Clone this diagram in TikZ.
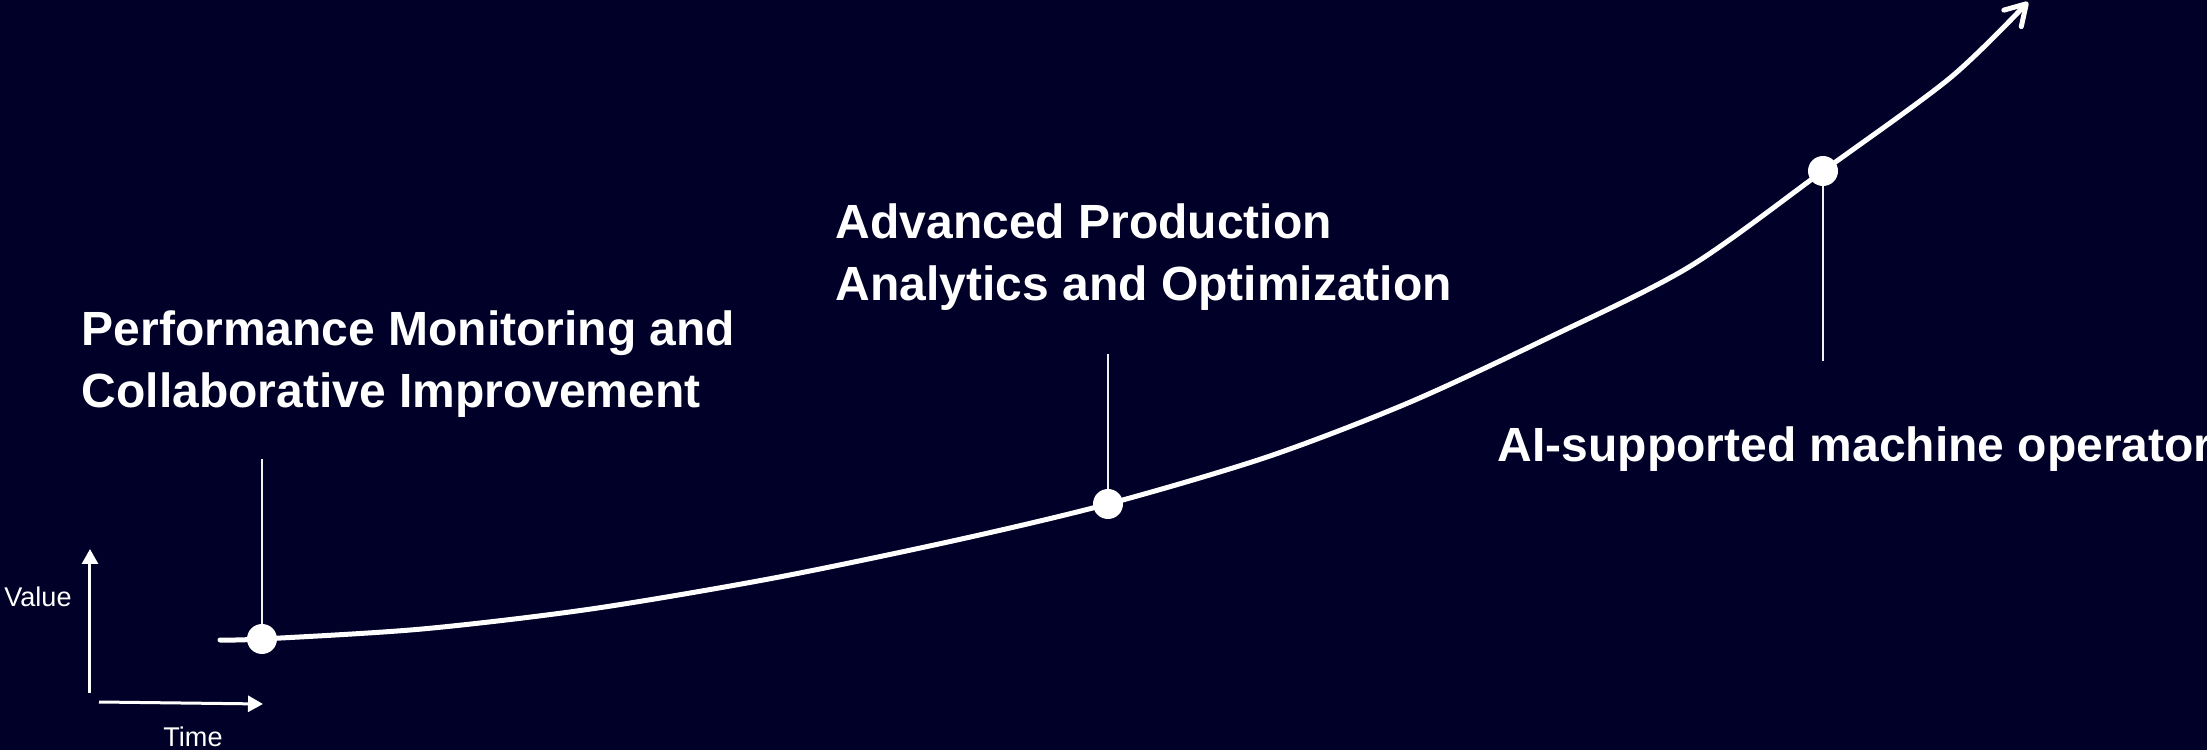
\documentclass[tikz,border=0pt]{standalone}
\usepackage{fontspec}
\setmainfont{Liberation Sans}
\usepackage{tikz}
\usetikzlibrary{arrows.meta}
\definecolor{navy}{HTML}{000028}
\tikzset{dot/.style={circle,fill=white,minimum size=0.3cm,inner sep=0pt}}
\tikzset{lbl/.style={anchor=base west,inner sep=0pt,align=left,text=white,font=\bfseries\fontsize{13.66}{17.9}\selectfont}}
\tikzset{axlbl/.style={text=white,inner sep=0pt,font=\fontsize{7.7}{9}\selectfont}}
\tikzset{pin/.style={white!90!gray,line width=0.027cm}}

\begin{document}
\begin{tikzpicture}[>={Triangle[length=0.15cm,width=0.16cm]}]
    \useasboundingbox (0,0) rectangle (22.07,7.5);
    \fill[navy] (0,0) rectangle (22.07,7.5);

    % axes
    \coordinate (o1) at (0.90,0.57);
    \coordinate (v) at (0.90,2.01);
    \coordinate (o2) at (0.99,0.48);
    \coordinate (t) at (2.63,0.46);
    \draw[->,white,line width=0.03cm] (o1) -- (v);
    \draw[->,white,line width=0.03cm] (o2) -- (t);
    \node[axlbl] (val) at (0.38,1.53) {Value};
    \node[axlbl] (tim) at (1.93,0.13) {Time};

    % curve
    \coordinate (s) at (2.20,1.10);
    \coordinate (p1) at (2.62,1.11);
    \coordinate (p2) at (11.08,2.46);
    \coordinate (p3) at (18.23,5.79);
    \coordinate (e) at (20.28,7.48);
    \draw[white,line width=0.05cm,line cap=round,-{Straight Barb[round,length=0.2cm,width=0.24cm]}]
        plot[smooth,tension=0.5] coordinates {(s) (p1) (4.22,1.21) (5.91,1.41) (7.74,1.72) (9.57,2.10) (p2)
        (12.67,2.93) (14.08,3.47) (15.48,4.12) (16.89,4.83) (p3) (19.50,6.72) (e)};

    % leaders
    \coordinate (l1) at (2.62,2.91);
    \coordinate (l2) at (11.08,3.96);
    \coordinate (l3) at (18.23,3.89);
    \draw[pin] (p1) -- (l1);
    \draw[pin] (p2) -- (l2);
    \draw[pin] (p3) -- (l3);

    % milestones
    \node[dot] (d1) at (p1) {};
    \node[dot] (d2) at (p2) {};
    \node[dot] (d3) at (p3) {};

    \node[lbl] (a) at (0.81,3.42) {Performance Monitoring and\\Collaborative Improvement};
    \node[lbl] (b) at (8.35,4.49) {Advanced Production\\Analytics and Optimization};
    \node[lbl] (c) at (14.97,2.89) {AI-supported machine operator};
\end{tikzpicture}
\end{document}
